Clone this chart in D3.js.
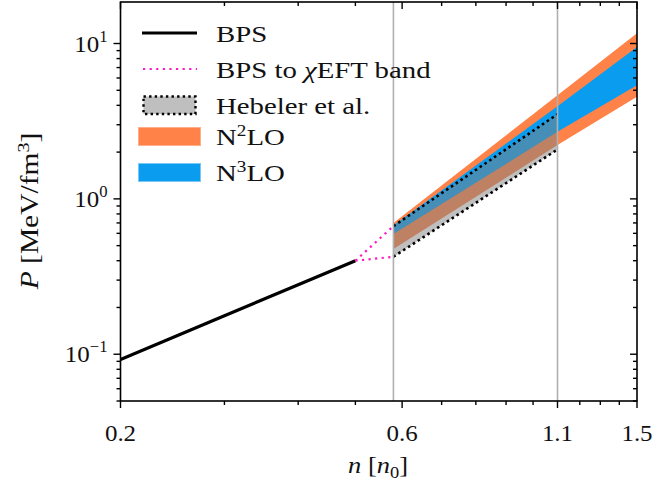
<!DOCTYPE html>
<html><head><meta charset="utf-8">
<script src="https://cdn.jsdelivr.net/npm/d3@7"></script>
<style>
body{margin:0;background:#fff;}
text{font-family:"Liberation Serif","DejaVu Serif",serif;fill:#111;}
</style></head>
<body><svg id="c" width="655" height="482"></svg>
<script>
// ---- data ----
const bpsN = [0.2, 0.3, 0.4, 0.5];
const bpsP = [0.0925, 0.177, 0.280, 0.400];
const bandN = [0.58, 1.1, 1.5];
const n2loLo = [0.476, 2.22, 4.54];
const n2loHi = [0.700, 4.65, 11.65];
const n3loLo = [0.594, 2.70, 5.39];
const n3loHi = [0.674, 3.95, 9.51];
const hebN = [0.58, 1.1];
const hebLo = [0.424, 2.08];
const hebHi = [0.668, 3.51];
const vLines = [0.58, 1.1];
const xMajor = [0.2, 0.6, 1.1, 1.5];
const xMinor = [0.3, 0.4, 0.5, 0.7, 0.8, 0.9, 1.0, 1.2, 1.3, 1.4];
const yMajor = [0.1, 1, 10];
const yMajorExp = ["−1", "0", "1"];
const yMinor = [0.05,0.06,0.07,0.08,0.09,0.2,0.3,0.4,0.5,0.6,0.7,0.8,0.9,2,3,4,5,6,7,8,9];
const colN2LO = "#ff8348", colN3LO = "#0a9cef", colMag = "#ff19c4";

const svg = d3.select("#c");
const L = 120.5, R = 637, T = 2, B = 401;
const x = d3.scaleLog().domain([0.2, 1.5]).range([L, R]);
const y = d3.scaleLog().domain([0.05, 18.5]).range([B, T]);

svg.append("clipPath").attr("id","cl").append("rect")
  .attr("x",L).attr("y",T).attr("width",R-L).attr("height",B-T);
const g = svg.append("g").attr("clip-path","url(#cl)");

const area = (n, lo, hi) => d3.area().x((d,i)=>x(n[i])).y0((d,i)=>y(lo[i])).y1((d,i)=>y(hi[i]))(n);
const line = (n, p) => d3.line().x((d,i)=>x(n[i])).y((d,i)=>y(p[i]))(n);

g.append("path").attr("d", area(bandN, n2loLo, n2loHi)).attr("fill", colN2LO);
g.append("path").attr("d", area(bandN, n3loLo, n3loHi)).attr("fill", colN3LO);
g.append("path").attr("d", area(hebN, hebLo, hebHi)).attr("fill", "#808080").attr("fill-opacity", 0.5);
[hebLo, hebHi].forEach(arr => g.append("path").attr("d", line(hebN, arr)).attr("fill","none")
  .attr("stroke","#000").attr("stroke-width",2.6).attr("stroke-dasharray","2.6,3.2"));

vLines.forEach(v => g.append("line").attr("x1",x(v)).attr("x2",x(v)).attr("y1",T).attr("y2",B)
  .attr("stroke","#b0b0b0").attr("stroke-width",1.6));

g.append("path").attr("d", line(bpsN, bpsP)).attr("fill","none").attr("stroke","#000").attr("stroke-width",3.2);
const last = bpsN.length-1;
[hebHi[0], hebLo[0]].forEach(p => g.append("path")
  .attr("d", line([bpsN[last], hebN[0]], [bpsP[last], p]))
  .attr("fill","none").attr("stroke",colMag).attr("stroke-width",2.2).attr("stroke-dasharray","2.2,4.4"));

svg.append("rect").attr("x",L).attr("y",T).attr("width",R-L).attr("height",B-T)
  .attr("fill","none").attr("stroke","#000").attr("stroke-width",1.6);

const tk = svg.append("g").attr("stroke","#000").attr("stroke-width",1.4);
xMajor.forEach(v=>{tk.append("line").attr("x1",x(v)).attr("x2",x(v)).attr("y1",B).attr("y2",B+7);
  tk.append("line").attr("x1",x(v)).attr("x2",x(v)).attr("y1",T).attr("y2",T+7);});
xMinor.forEach(v=>{tk.append("line").attr("x1",x(v)).attr("x2",x(v)).attr("y1",B).attr("y2",B+4);
  tk.append("line").attr("x1",x(v)).attr("x2",x(v)).attr("y1",T).attr("y2",T+4);});
yMajor.forEach(v=>{tk.append("line").attr("y1",y(v)).attr("y2",y(v)).attr("x1",L-7).attr("x2",L);
  tk.append("line").attr("y1",y(v)).attr("y2",y(v)).attr("x1",R-7).attr("x2",R);});
yMinor.forEach(v=>{tk.append("line").attr("y1",y(v)).attr("y2",y(v)).attr("x1",L-4).attr("x2",L);
  tk.append("line").attr("y1",y(v)).attr("y2",y(v)).attr("x1",R-4).attr("x2",R);});

const txt = (x0, y0, size, anchor, sx, rot) => svg.append("text")
  .attr("transform", `translate(${x0},${y0})` + (rot ? ` rotate(${rot})` : "") + ` scale(${sx},1)`)
  .attr("text-anchor", anchor).attr("font-size", size);

xMajor.forEach(v=>txt(x(v), 441, 24, "middle", 1.04).text(d3.format(".1f")(v)));
yMajor.forEach((v,i)=>{
  const t = txt(L-13, y(v)+8, 24, "end", 1.04);
  t.append("tspan").text("10");
  t.append("tspan").attr("dy",-10).attr("font-size",16).text(yMajorExp[i]);
});

const xl = txt(378, 473, 23, "middle", 1.15);
xl.append("tspan").attr("font-style","italic").text("n");
xl.append("tspan").text(" [");
xl.append("tspan").attr("font-style","italic").text("n");
xl.append("tspan").attr("dy",5).attr("font-size",16).text("0");
xl.append("tspan").attr("dy",-5).text("]");

const yl = txt(38, 211, 25, "middle", 1.18, -90);
yl.append("tspan").attr("font-style","italic").text("P");
yl.append("tspan").text(" [MeV/fm");
yl.append("tspan").attr("dy",-9).attr("font-size",17).text("3");
yl.append("tspan").attr("dy",9).text("]");

// legend
const lg = svg.append("g");
const rows = [33, 69, 105, 136.5, 172.5];
lg.append("line").attr("x1",142).attr("x2",197).attr("y1",rows[0]).attr("y2",rows[0]).attr("stroke","#000").attr("stroke-width",3.2);
lg.append("line").attr("x1",143).attr("x2",197).attr("y1",rows[1]).attr("y2",rows[1]).attr("stroke",colMag).attr("stroke-width",2.2).attr("stroke-dasharray","2.2,4.4");
lg.append("rect").attr("x",143.5).attr("y",96.5).attr("width",52).attr("height",17.5).attr("fill","#bfbfbf")
  .attr("stroke","#000").attr("stroke-width",2.4).attr("stroke-dasharray","2.4,3.2");
lg.append("rect").attr("x",138.5).attr("y",127.5).attr("width",62).attr("height",18).attr("fill",colN2LO).attr("stroke","#ffb08a").attr("stroke-width",1);
lg.append("rect").attr("x",138.5).attr("y",163.5).attr("width",62).attr("height",18).attr("fill",colN3LO).attr("stroke","#7ac6f5").attr("stroke-width",1);

const lt = (i) => txt(216, rows[i]+8.5, 24, "start", 1.2);
lt(0).text("BPS");
const t1 = lt(1); t1.append("tspan").text("BPS to "); t1.append("tspan").attr("font-style","italic").text("χ"); t1.append("tspan").text("EFT band");
lt(2).text("Hebeler et al.");
const t3 = lt(3); t3.append("tspan").text("N"); t3.append("tspan").attr("dy",-9).attr("font-size",16).text("2"); t3.append("tspan").attr("dy",9).text("LO");
const t4 = lt(4); t4.append("tspan").text("N"); t4.append("tspan").attr("dy",-9).attr("font-size",16).text("3"); t4.append("tspan").attr("dy",9).text("LO");
</script></body></html>
